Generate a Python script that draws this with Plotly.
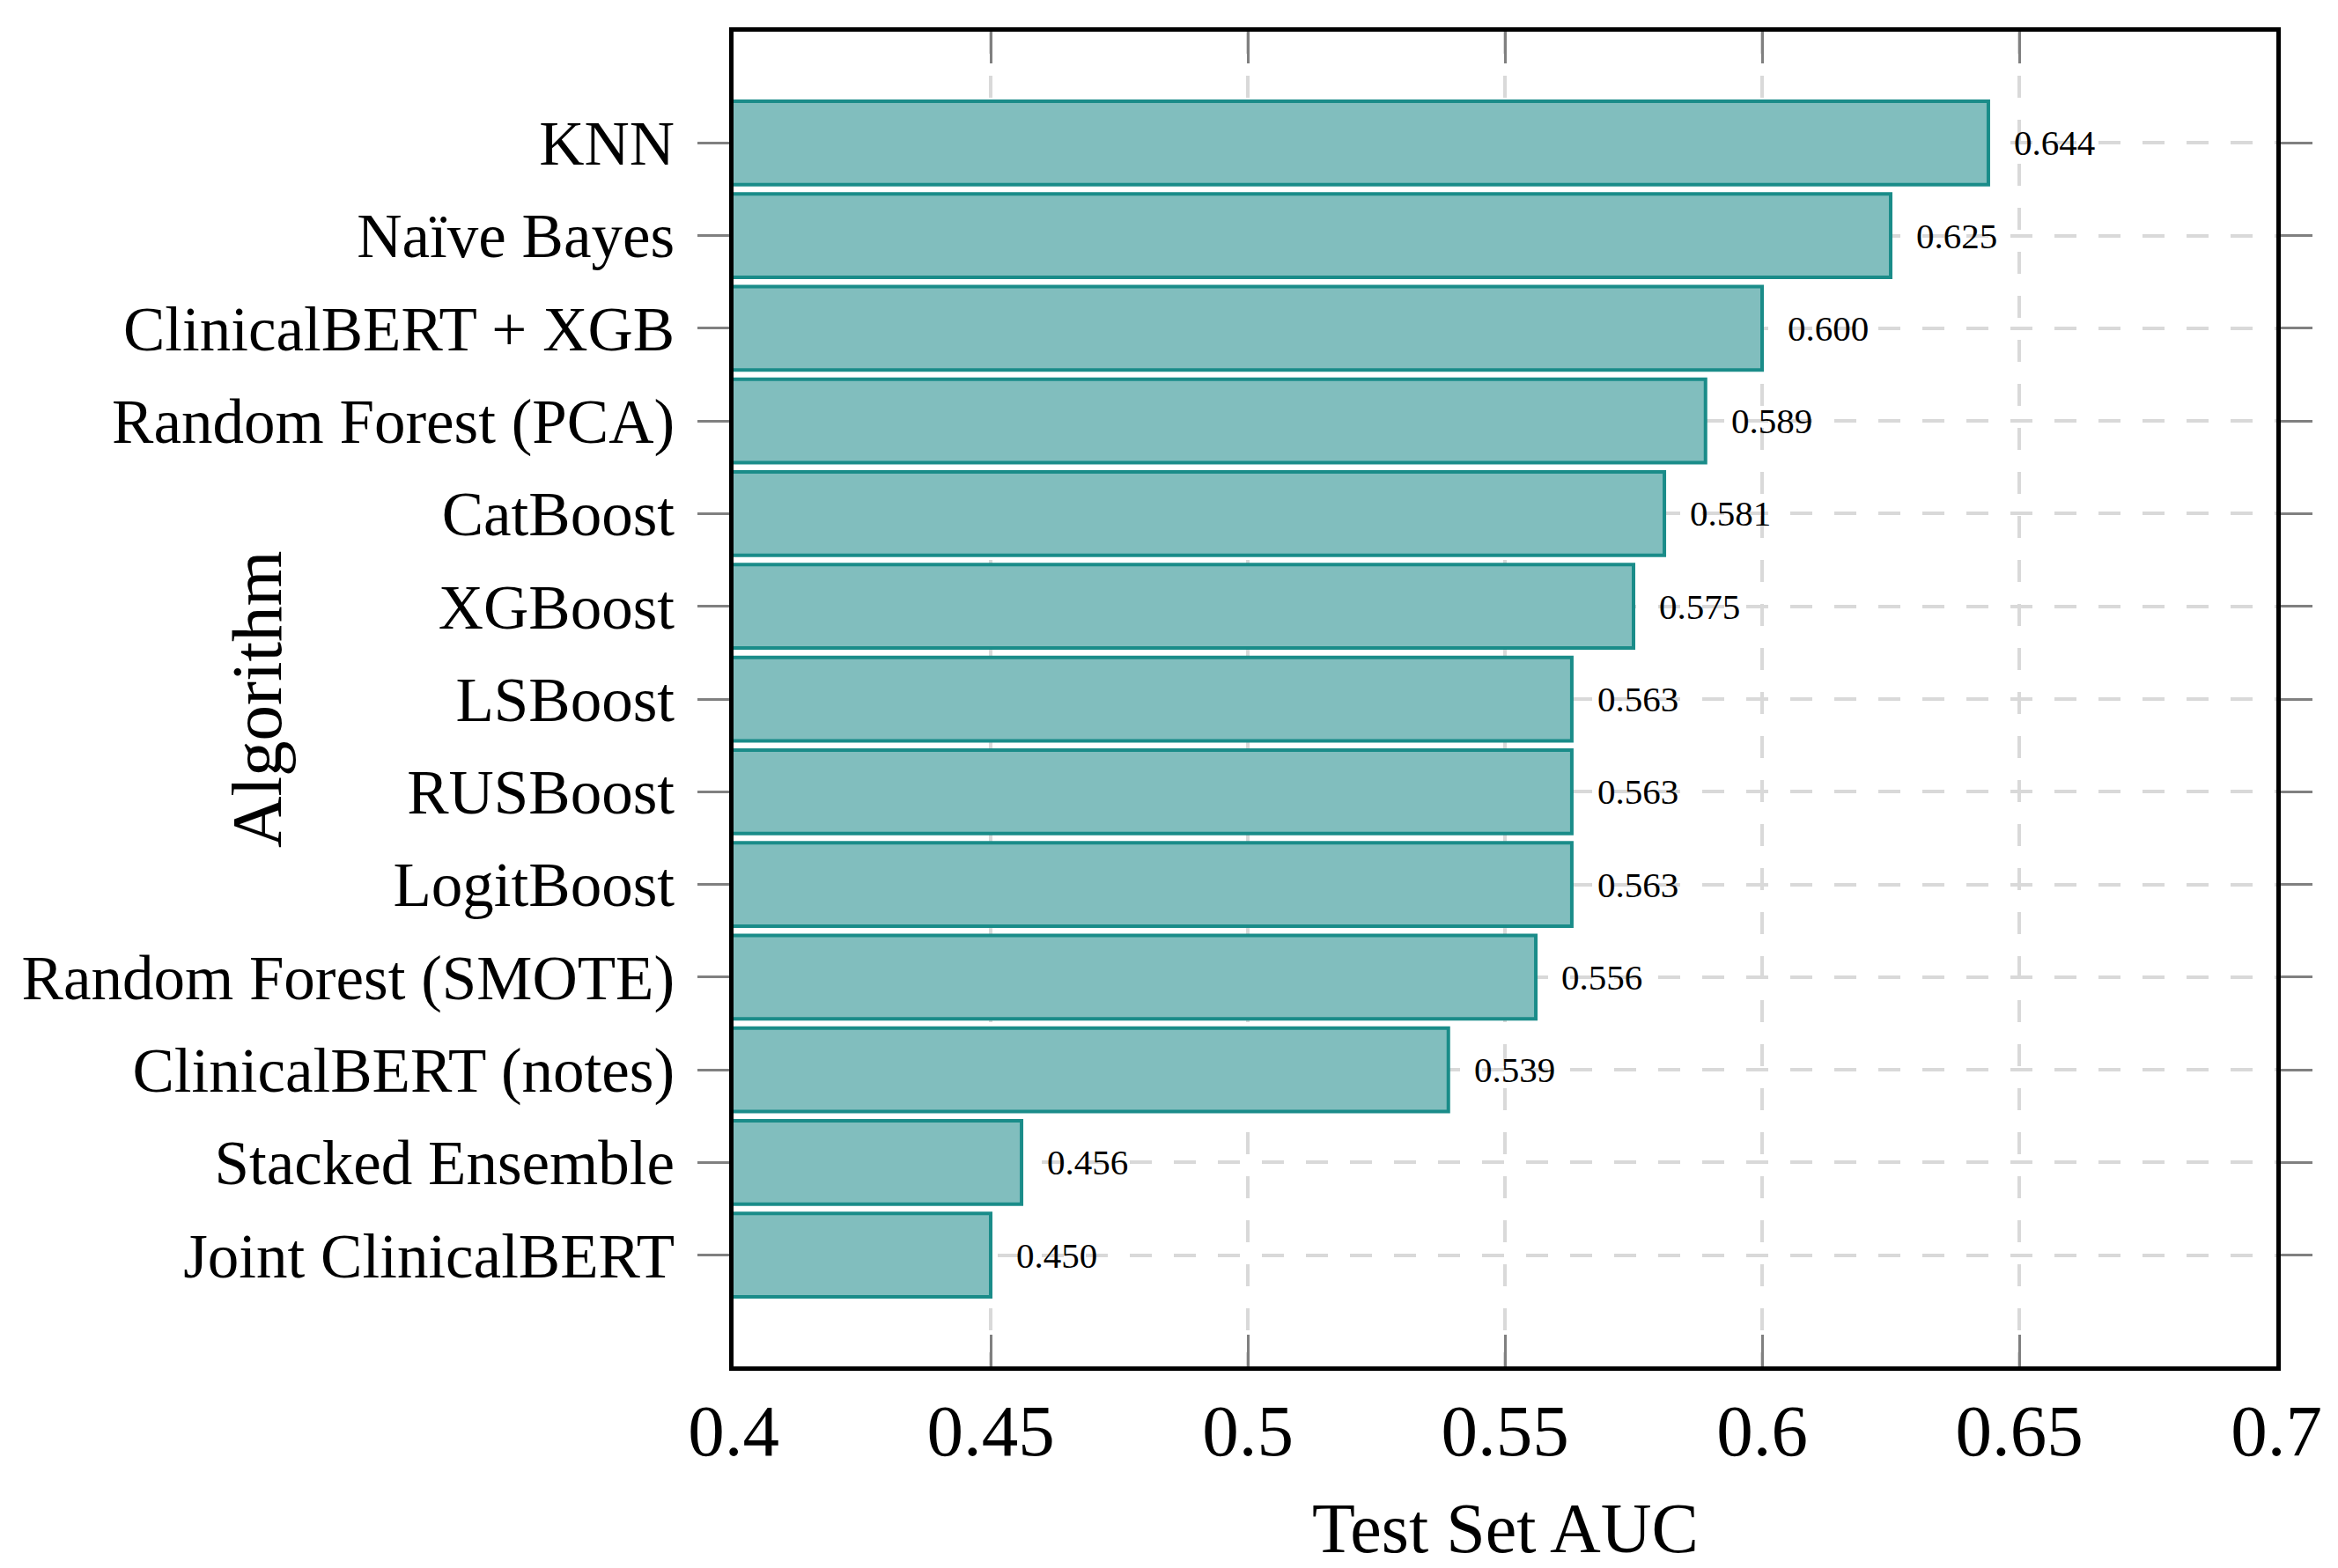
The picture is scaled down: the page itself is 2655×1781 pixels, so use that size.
import plotly.graph_objects as go

algorithms = [
    "KNN",
    "Naïve Bayes",
    "ClinicalBERT + XGB",
    "Random Forest (PCA)",
    "CatBoost",
    "XGBoost",
    "LSBoost",
    "RUSBoost",
    "LogitBoost",
    "Random Forest (SMOTE)",
    "ClinicalBERT (notes)",
    "Stacked Ensemble",
    "Joint ClinicalBERT",
]
auc = [0.644, 0.625, 0.600, 0.589, 0.581, 0.575, 0.563, 0.563, 0.563, 0.556, 0.539, 0.456, 0.450]

x_tickvals = [0.4, 0.45, 0.5, 0.55, 0.6, 0.65, 0.7]
x_ticktext = ["0.4", "0.45", "0.5", "0.55", "0.6", "0.65", "0.7"]

x_title = "Test Set AUC"
y_title = "Algorithm"

FONT = "Liberation Serif"
FILL = "#81BEBE"
EDGE = "#1A8C89"
GRID = "#D9D9D9"
TICK = "#808080"

fig = go.Figure()
fig.add_trace(go.Bar(
    y=algorithms,
    x=auc,
    orientation="h",
    width=0.9,
    marker=dict(color=FILL, line=dict(color=EDGE, width=4)),
    hoverinfo="x+y",
))

for name, v in zip(algorithms, auc):
    fig.add_annotation(
        x=v, y=name, xref="x", yref="y",
        text=f"{v:.3f}", showarrow=False,
        xanchor="left", yanchor="middle", xshift=27,
        font=dict(family=FONT, size=41, color="black"),
    )

# axis titles
fig.add_annotation(
    x=0.5, y=0, xref="paper", yref="paper",
    text=x_title, showarrow=False,
    xanchor="center", yanchor="middle", yshift=-184,
    font=dict(family=FONT, size=80, color="black"),
)
fig.add_annotation(
    x=0, y=0.5, xref="paper", yref="paper",
    text=y_title, showarrow=False, textangle=-90,
    xanchor="center", yanchor="middle", xshift=-541,
    font=dict(family=FONT, size=81, color="black"),
)

fig.update_layout(
    width=2655, height=1781,
    margin=dict(l=825, r=78, t=27.5, b=237, pad=0),
    paper_bgcolor="white", plot_bgcolor="white",
    showlegend=False,
    font=dict(family=FONT, color="black"),
)

fig.update_xaxes(
    range=[0.4, 0.7],
    tickvals=x_tickvals, ticktext=x_ticktext,
    tickfont=dict(family=FONT, size=83, color="black"),
    ticks="inside", ticklen=36, tickwidth=2.5, tickcolor=TICK,
    ticklabelstandoff=-3,
    showline=True, linecolor="black", linewidth=4.5, mirror="ticks",
    showgrid=True, gridcolor=GRID, gridwidth=4, griddash="25px,25px",
    zeroline=False, automargin=False,
)

fig.update_yaxes(
    range=[12 + 1.2, -1.2],
    tickfont=dict(family=FONT, size=71, color="black"),
    ticks="outside", ticklen=36, tickwidth=2.5, tickcolor=TICK,
    ticklabelstandoff=12,
    showline=True, linecolor="black", linewidth=4.5, mirror="ticks",
    showgrid=True, gridcolor=GRID, gridwidth=4, griddash="25px,25px",
    zeroline=False, automargin=False,
)

fig.write_html("out.html")
